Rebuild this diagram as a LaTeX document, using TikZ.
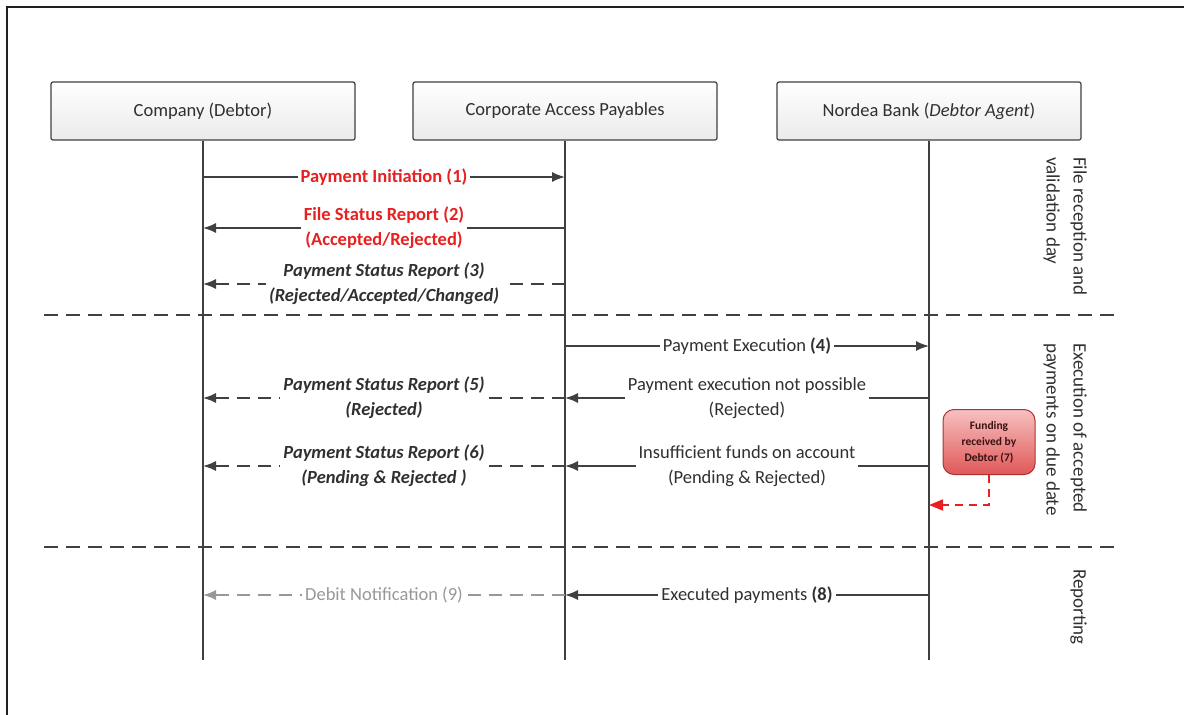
\documentclass[tikz,border=0pt]{standalone}
\usepackage{fontspec}
\setmainfont{Carlito}
\usetikzlibrary{arrows.meta}
\definecolor{linegray}{HTML}{404040}
\definecolor{txt}{HTML}{303030}
\definecolor{msgred}{HTML}{E82020}
\definecolor{lightgray9}{HTML}{989898}
\definecolor{fundtop}{HTML}{F7C0C0}
\definecolor{fundbot}{HTML}{E05858}
\definecolor{fundborder}{HTML}{B03030}
\definecolor{fundtxt}{HTML}{3A1010}
\begin{document}
\begin{tikzpicture}[x=1pt,y=-1pt,
  hdr/.style={draw=linegray, line width=1.2pt, rounded corners=2pt, top color=white, bottom color=gray!16,
    minimum width=304pt, minimum height=58pt, font=\fontsize{18.5}{22}\selectfont, text=txt},
  life/.style={draw=linegray, line width=2pt},
  msg/.style={draw=linegray, line width=1.5pt, -{Latex[length=13pt,width=10pt]}},
  dmsg/.style={msg, dash pattern=on 13pt off 8pt},
  lbl/.style={fill=white, inner xsep=3pt, inner ysep=0pt, align=center, text=txt, font=\fontsize{18.5}{25}\selectfont},
  rlbl/.style={fill=white, inner xsep=3pt, inner ysep=0pt, align=center, text=msgred, font=\bfseries\fontsize{18.5}{25}\selectfont},
  ilbl/.style={fill=white, inner xsep=3pt, inner ysep=0pt, align=center, text=txt, font=\bfseries\itshape\fontsize{18.5}{25}\selectfont},
  sepline/.style={draw=linegray, line width=1.5pt, dash pattern=on 14pt off 8pt},
  side/.style={rotate=-90, anchor=north west, inner sep=0pt, align=left, text=txt, font=\fontsize{19}{27}\selectfont},
  fund/.style={draw=fundborder, line width=1pt, rounded corners=11pt, top color=fundtop, bottom color=fundbot,
    minimum width=92pt, minimum height=65pt, align=center, text=fundtxt, font=\bfseries\fontsize{11.5}{16}\selectfont}
]
\useasboundingbox (0,0) rectangle (1184,715);
% frame
\draw[line width=2.5pt, draw=gray!25!black] (7,715) -- (7,7) -- (1184,7);

% participants
\node[hdr] (A) at (203,111) {Company (Debtor)};
\node[hdr] (B) at (565,111) {Corporate Access Payables};
\node[hdr] (C) at (929,111) {Nordea Bank (\textit{Debtor Agent})};
\coordinate (Aend) at (203,660);
\coordinate (Bend) at (565,660);
\coordinate (Cend) at (929,660);
\draw[life] (A.south) -- (Aend);
\draw[life] (B.south) -- (Bend);
\draw[life] (C.south) -- (Cend);

% separators
\coordinate (s1l) at (44,315); \coordinate (s1r) at (1115,315);
\coordinate (s2l) at (44,547); \coordinate (s2r) at (1115,547);
\draw[sepline] (s1l) -- (s1r);
\draw[sepline] (s2l) -- (s2r);

% message anchor points
\coordinate (a1) at (203,177); \coordinate (b1) at (565,177);
\coordinate (a2) at (203,228); \coordinate (b2) at (565,228);
\coordinate (a3) at (203,284); \coordinate (b3) at (565,284);
\coordinate (b4) at (565,346); \coordinate (c4) at (929,346);
\coordinate (a5) at (203,398); \coordinate (b5) at (565,398); \coordinate (c5) at (929,398);
\coordinate (a6) at (203,466); \coordinate (b6) at (565,466); \coordinate (c6) at (929,466);
\coordinate (a8) at (203,595); \coordinate (b8) at (565,595); \coordinate (c8) at (929,595);

\draw[msg] (a1) -- node[rlbl] (m1) {Payment Initiation (1)} (b1);
\draw[msg] (b2) -- node[rlbl] (m2) {File Status Report (2)\\(Accepted/Rejected)} (a2);
\draw[dmsg] (b3) -- node[ilbl] (m3) {Payment Status Report (3)\\(Rejected/Accepted/Changed)} (a3);
\draw[msg] (b4) -- node[lbl] (m4) {Payment Execution \textbf{(4)}} (c4);
\draw[msg] (c5) -- node[lbl] (m5) {Payment execution not possible\\(Rejected)} (b5);
\draw[dmsg] (b5) -- node[ilbl] (m5b) {Payment Status Report (5)\\(Rejected)} (a5);
\draw[msg] (c6) -- node[lbl] (m6) {Insufficient funds on account\\(Pending \& Rejected)} (b6);
\draw[dmsg] (b6) -- node[ilbl] (m6b) {Payment Status Report (6)\\(Pending \& Rejected )} (a6);
\draw[msg] (c8) -- node[lbl] (m8) {Executed payments \textbf{(8)}} (b8);
\draw[dmsg, draw=lightgray9] (b8) -- node[lbl, text=lightgray9] (m9) {Debit Notification (9)} (a8);

% funding box
\node[fund] (F) at (989,442) {Funding\\received by\\Debtor (7)};
\coordinate (f1) at (929,505);
\draw[draw=msgred, line width=1.8pt, dash pattern=on 8pt off 6pt, -{Triangle[length=14pt,width=11pt]}] (F.south) |- (f1);

% phase labels
\node[side] (p1) at (1087,157) {File reception and\\validation day};
\node[side] (p2) at (1087,343) {Execution of accepted\\payments on due date};
\node[side] (p3) at (1087,569) {Reporting};
\end{tikzpicture}
\end{document}
